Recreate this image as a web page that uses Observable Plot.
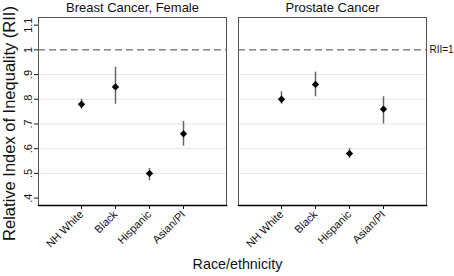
<!DOCTYPE html>
<html>
<head>
<meta charset="utf-8">
<script src="https://cdn.jsdelivr.net/npm/d3@7"></script>
<script src="https://cdn.jsdelivr.net/npm/@observablehq/plot@0.6"></script>
<style>
  html, body { margin: 0; padding: 0; background: #fff; }
  svg { font-family: "Liberation Sans", Arial, sans-serif; }
</style>
</head>
<body>
<div id="chart"></div>
<script>
const categories = ["NH White", "Black", "Hispanic", "Asian/PI"];
const cancers = ["Breast Cancer, Female", "Prostate Cancer"];
const breastRII = [0.78, 0.85, 0.50, 0.66];
const breastLo  = [0.76, 0.78, 0.47, 0.61];
const breastHi  = [0.80, 0.93, 0.52, 0.71];
const prostateRII = [0.80, 0.86, 0.58, 0.76];
const prostateLo  = [0.78, 0.81, 0.56, 0.70];
const prostateHi  = [0.83, 0.91, 0.60, 0.81];
const yTicks = [0.4, 0.5, 0.6, 0.7, 0.8, 0.9, 1.0, 1.1];
const gridTicks = [0.5, 0.6, 0.7, 0.8, 0.9];
const referenceLine = [1];
const refLabel = "RII=1";
const yTitle = "Relative Index of Inequality (RII)";
const xTitle = "Race/ethnicity";
const yDomain = [0.37, 1.131];

const rows = [];
categories.forEach((c, i) => {
  rows.push({cancer: cancers[0], race: c, rii: breastRII[i], lo: breastLo[i], hi: breastHi[i]});
});
categories.forEach((c, i) => {
  rows.push({cancer: cancers[1], race: c, rii: prostateRII[i], lo: prostateLo[i], hi: prostateHi[i]});
});

const fmt = d => d === 1 ? "1" : String(d).replace(/^0/, "");

const chart = Plot.plot({
  width: 454,
  height: 276,
  marginTop: 17,
  marginBottom: 71,
  marginLeft: 38,
  marginRight: 28,
  style: {fontFamily: "'Liberation Sans', Arial, sans-serif", color: "#111", background: "#fff", overflow: "visible"},
  fx: {domain: cancers, paddingInner: 0.06, paddingOuter: 0},
  x: {type: "point", domain: categories, padding: 1.2},
  y: {domain: yDomain},
  marks: [
    Plot.gridY(gridTicks, {stroke: "#e4e4e4", strokeOpacity: 1, strokeWidth: 1}),
    Plot.ruleY(referenceLine, {stroke: "#444", strokeWidth: 1, strokeDasharray: "7,4"}),
    Plot.frame({stroke: "#555", strokeWidth: 1}),
    Plot.frame({anchor: "bottom", stroke: "#000", strokeWidth: 1.5}),
    Plot.ruleX(rows, {fx: "cancer", x: "race", y1: "lo", y2: "hi", stroke: "#666", strokeWidth: 1.5}),
    Plot.dot(rows, {fx: "cancer", x: "race", y: "rii", symbol: "diamond2", r: 3.3, fill: "#000", stroke: "none"}),
    Plot.text([{cancer: cancers[1], v: referenceLine[0]}], {fx: "cancer", y: "v", text: () => refLabel, frameAnchor: "right", textAnchor: "start", dx: 3, fontSize: 10, fill: "#111"}),
    Plot.axisY(yTicks, {tickRotate: -90, tickFormat: fmt, tickSize: 4, tickPadding: 3, fontSize: 11, label: null}),
    Plot.axisY({ticks: [], label: yTitle, labelAnchor: "center", labelArrow: "none", labelOffset: 35, fontSize: 16.5}),
    Plot.axisX({tickRotate: -45, tickSize: 4, tickPadding: 3, fontSize: 11, label: null}),
    Plot.axisFx({anchor: "top", label: null, tickSize: 0, tickPadding: 6, fontSize: 13}),
    Plot.text([{cancer: cancers[0]}], {fx: "cancer", text: () => xTitle, frameAnchor: "bottom-right", textAnchor: "middle", dx: 11, dy: 63, fontSize: 14.3, fill: "#111"})
  ]
});
// nudge the y-axis title down slightly to match the reference's placement
d3.select(chart).selectAll("text")
  .filter(function() { return this.textContent === yTitle; })
  .each(function() {
    const t = this.getAttribute("transform") || "";
    this.setAttribute("transform", "translate(0,12) " + t);
  });
document.getElementById("chart").appendChild(chart);
</script>
</body>
</html>
